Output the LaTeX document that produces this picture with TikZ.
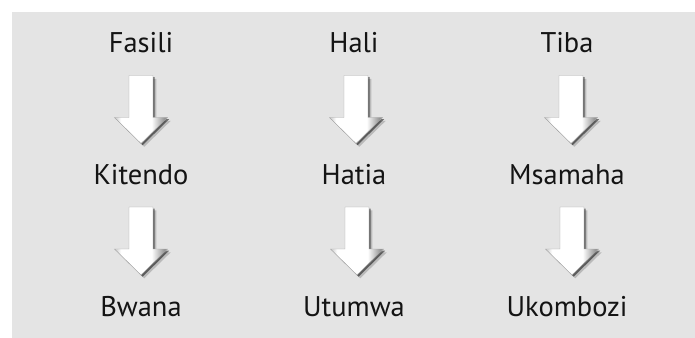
\documentclass[tikz,border=0pt]{standalone}
\usepackage{fontspec}
\setmainfont{PT Sans}
\usetikzlibrary{calc,shadows,positioning}

\definecolor{panelgray}{HTML}{E4E4E4}

% white body, grey bevel on the right
\pgfdeclarehorizontalshading{bevel}{100bp}{color(0bp)=(white!78!black);
  color(27bp)=(white!85!black); color(31bp)=(white); color(60bp)=(white);
  color(72bp)=(white!58!black); color(100bp)=(white!68!black)}

\tikzset{
  word/.style={font=\fontsize{24.3}{29}\selectfont, anchor=base, inner sep=0pt, text=black!92},
  arrowbody/.style={draw=black!35, line width=0.35pt, shading=bevel,
    drop shadow={shadow xshift=2.8pt, shadow yshift=-2.8pt, opacity=0.18, fill=black},
    drop shadow={shadow xshift=1.4pt, shadow yshift=-1.4pt, opacity=0.5, fill=black}},
  downarrow/.pic={
    \path[arrowbody] (-12,-34) -- (12,-34) -- (12,8) -- (26.5,8) -- (0,34)
      -- (-26.5,8) -- (-12,8) -- cycle;
  }
}

\begin{document}
\begin{tikzpicture}[x=0.03cm, y=-0.03cm]
    \useasboundingbox[fill=white] (0,0) rectangle (695,338);
    \fill[panelgray] (12,12) rectangle (695,338);

    \def\ColA{141}   % x of first column
    \def\ColB{354}
    \def\ColC{567}

    \def\RowA{53}    % baselines
    \def\RowB{184}
    \def\RowC{316}

    \node[word] (fasili)   at (\ColA,\RowA) {Fasili};
    \node[word] (hali)     at (\ColB,\RowA) {Hali};
    \node[word] (tiba)     at (\ColC,\RowA) {Tiba};

    \node[word] (kitendo)  at (\ColA,\RowB) {Kitendo};
    \node[word] (hatia)    at (\ColB,\RowB) {Hatia};
    \node[word] (msamaha)  at (\ColC,\RowB) {Msamaha};

    \node[word] (bwana)    at (\ColA,\RowC) {Bwana};
    \node[word] (utumwa)   at (\ColB,\RowC) {Utumwa};
    \node[word] (ukombozi) at (\ColC,\RowC) {Ukombozi};

    \foreach \Top/\Bot/\dx in {fasili/kitendo/0, hali/hatia/2, tiba/msamaha/4,
                               kitendo/bwana/0, hatia/utumwa/3, msamaha/ukombozi/5} {
      \pic at ($(\Top.base)!.5!(\Bot.base) + (\dx,-9)$) {downarrow};
    }
\end{tikzpicture}
\end{document}
